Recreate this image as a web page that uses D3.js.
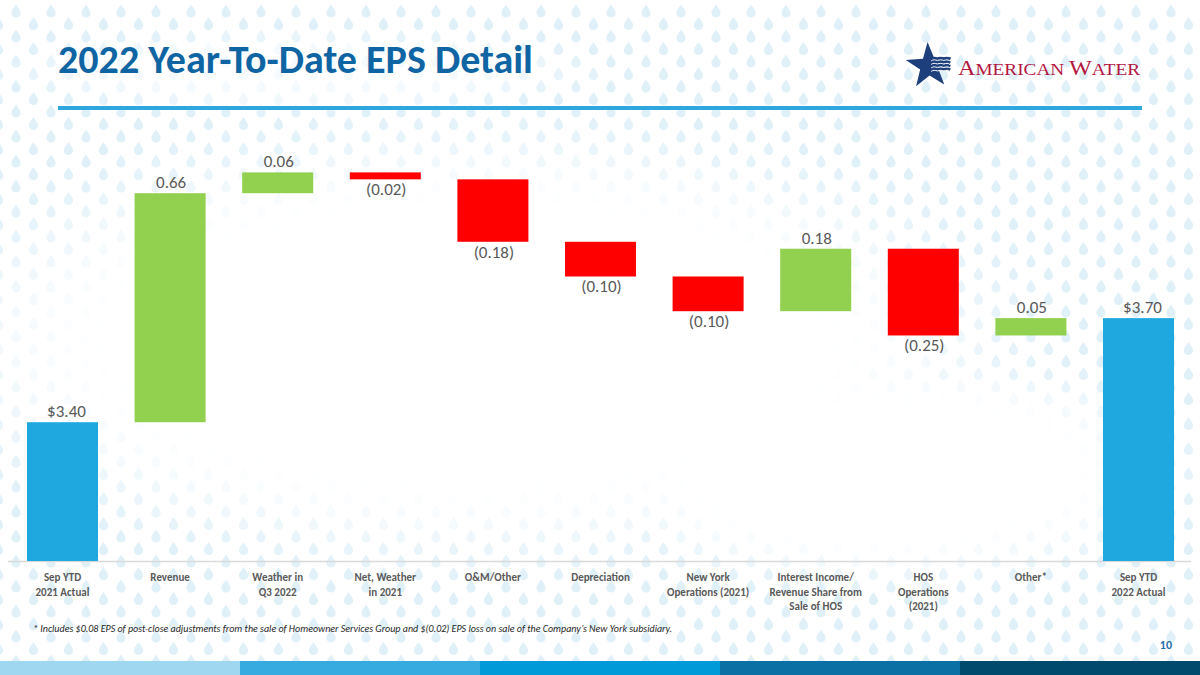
<!DOCTYPE html>
<html>
<head>
<meta charset="utf-8">
<script src="https://cdn.jsdelivr.net/npm/d3@7"></script>
<style>
  html, body { margin: 0; padding: 0; background: #ffffff; }
  svg { display: block; }
</style>
</head>
<body>
<svg id="chart" width="1200" height="675"></svg>
<script>
// ---------------- DATA ----------------
const categories = [
  ["Sep YTD", "2021 Actual"],
  ["Revenue"],
  ["Weather in", "Q3 2022"],
  ["Net, Weather", "in 2021"],
  ["O&M/Other"],
  ["Depreciation"],
  ["New York", "Operations (2021)"],
  ["Interest Income/", "Revenue Share from", "Sale of HOS"],
  ["HOS", "Operations", "(2021)"],
  ["Other*"],
  ["Sep YTD", "2022 Actual"]
];
const values = [3.40, 0.66, 0.06, -0.02, -0.18, -0.10, -0.10, 0.18, -0.25, 0.05, 3.70];
const kinds  = ["total", "delta", "delta", "delta", "delta", "delta", "delta", "delta", "delta", "delta", "total"];
const valueLabels = ["$3.40", "0.66", "0.06", "(0.02)", "(0.18)", "(0.10)", "(0.10)", "0.18", "(0.25)", "0.05", "$3.70"];
const yDomain = [3.0, 4.12];

const titleText = "2022 Year-To-Date EPS Detail";
const footnoteText = "* Includes $0.08 EPS of post-close adjustments from the sale of Homeowner Services Group and $(0.02) EPS loss on sale of the Company\u2019s New York subsidiary.";
const pageNumber = "10";
const stripeColors = ["#9fd6f0", "#35abe0", "#009ad9", "#0b70a4", "#004a6d"];

// ---------------- SETUP ----------------
const svg = d3.select("#chart");
const W = 1200, H = 675;
const FONT = "Carlito, Lato, 'Open Sans', sans-serif";

svg.append("rect").attr("width", W).attr("height", H).attr("fill", "#fff");

// Background droplets (decorative), fading out toward the plot centre
const dropPath = "M0,-6.5 C1.5,-4 4.6,-0.8 4.6,2 A4.6,4.6 0 0 1 -4.6,2 C-4.6,-0.8 -1.5,-4 0,-6.5Z";
const drops = [];
for (let r = 0; r * 12.5 < H + 12; r++) {
  for (let c = -1; c * 35 < W + 35; c++) {
    drops.push([16 + c * 35 + (r % 2 ? 17.5 : 0), 11 + r * 12.5]);
  }
}
function smooth(a, b, t) { const u = Math.max(0, Math.min(1, (t - a) / (b - a))); return u * u * (3 - 2 * u); }
function dropAlpha(px, py) {
  const d1 = Math.hypot((px - 470) / 620, (py - 345) / 245);
  const d2 = Math.hypot((px - 880) / 360, (py - 470) / 130);
  const d3v = Math.hypot((px - 300) / 330, (py - 70) / 45);
  let a = Math.min(smooth(0.55, 1.0, d1), smooth(0.5, 1.0, d2));
  a = Math.min(a, 0.35 + 0.65 * smooth(0.5, 1.0, d3v));
  return a;
}
svg.append("g").selectAll("path").data(drops).join("path")
  .attr("d", dropPath)
  .attr("transform", d => `translate(${d[0]},${d[1]})`)
  .attr("fill", "#d3eaf7")
  .attr("opacity", d => (0.7 * dropAlpha(d[0], d[1])).toFixed(3));

// ---------------- HEADER ----------------
function fitWidth(sel, target) {
  const w = sel.node().getComputedTextLength();
  const fs = parseFloat(sel.attr("font-size"));
  sel.attr("font-size", (fs * target / w).toFixed(2));
}

const title = svg.append("text")
  .attr("x", 58).attr("y", 73)
  .attr("font-family", FONT).attr("font-weight", 700).attr("font-size", 34)
  .attr("fill", "#0f65a3").text(titleText);
fitWidth(title, 475);

svg.append("rect").attr("x", 58).attr("y", 106).attr("width", 1084).attr("height", 4).attr("fill", "#2ea7de");

// Logo: star with waves
const logo = svg.append("g");
const starPts = d3.range(10).map(i => {
  const r = i % 2 === 0 ? 24 : 9.5;
  const a = -Math.PI / 2 + i * Math.PI / 5 - 0.06;
  return [929 + r * Math.cos(a), 66 + r * Math.sin(a)];
});
logo.append("polygon").attr("points", starPts.map(p => p.join(",")).join(" ")).attr("fill", "#1d3f7c");
const waveLine = d3.line().curve(d3.curveBasis);
[58.5, 62, 65.5, 69].forEach(yy => {
  const pts = d3.range(0, 7).map(k => [931 + k * 3.2, yy + (k % 2 ? -0.9 : 0.9)]);
  logo.append("path").attr("d", waveLine(pts)).attr("fill", "none").attr("stroke", "#1d3f7c").attr("stroke-width", 3.0);
});
[58.5, 62, 65.5, 69].forEach(yy => {
  const pts = d3.range(0, 7).map(k => [931 + k * 3.2, yy + 1.6 + (k % 2 ? -0.9 : 0.9)]);
  logo.append("path").attr("d", waveLine(pts)).attr("fill", "none").attr("stroke", "#fff").attr("stroke-width", 1.0);
});
const lt = logo.append("text").attr("x", 958).attr("y", 75)
  .attr("font-family", "'Liberation Serif', 'DejaVu Serif', serif").attr("fill", "#b3173f")
  .attr("textLength", 182).attr("lengthAdjust", "spacingAndGlyphs");
lt.append("tspan").attr("font-size", 22).text("A");
lt.append("tspan").attr("font-size", 17.5).text("MERICAN ");
lt.append("tspan").attr("font-size", 22).text("W");
lt.append("tspan").attr("font-size", 17.5).text("ATER");

// ---------------- CHART ----------------
const x = d3.scaleBand().domain(d3.range(categories.length)).range([8.7, 1192.3]).paddingInner(0.34).paddingOuter(0.17);
const y = d3.scaleLinear().domain(yDomain).range([561, 172.4]);

let running = 0;
const bars = values.map((v, i) => {
  let lo, hi, color;
  if (kinds[i] === "total") {
    lo = yDomain[0]; hi = v; running = v; color = "#1fa8e0";
  } else {
    const start = running, end = running + v;
    lo = Math.min(start, end); hi = Math.max(start, end);
    running = end; color = v >= 0 ? "#92d050" : "#ff0000";
  }
  return { i, v, lo, hi, color, kind: kinds[i], label: valueLabels[i] };
});

// baseline
svg.append("line").attr("x1", 8).attr("x2", 1191).attr("y1", 561.5).attr("y2", 561.5)
  .attr("stroke", "#d9d9d9").attr("stroke-width", 1.5);

svg.append("g").selectAll("rect").data(bars).join("rect")
  .attr("x", d => x(d.i)).attr("width", x.bandwidth())
  .attr("y", d => y(d.hi)).attr("height", d => y(d.lo) - y(d.hi))
  .attr("fill", d => d.color);

svg.append("g").selectAll("text").data(bars).join("text")
  .attr("x", d => x(d.i) + x.bandwidth() / 2 + (d.kind === "total" ? 4 : 1))
  .attr("y", d => (d.kind === "total" || d.v >= 0) ? y(d.hi) - 5 : y(d.lo) + 16)
  .attr("text-anchor", "middle")
  .attr("font-family", FONT).attr("font-size", 17).attr("fill", "#595959")
  .text(d => d.label);

// x axis (ticks hidden; labels drawn as multi-line text)
const xAxis = d3.axisBottom(x).tickSize(0).tickFormat("");
svg.append("g").attr("transform", "translate(0,561)").call(xAxis).call(g => g.select(".domain").remove());

const catG = svg.append("g");
categories.forEach((lines, i) => {
  const cx = x(i) + x.bandwidth() / 2;
  const t = catG.append("text")
    .attr("x", cx).attr("y", 581)
    .attr("text-anchor", "middle")
    .attr("font-family", FONT).attr("font-weight", 700).attr("font-size", 11)
    .attr("fill", "#595959");
  lines.forEach((ln, k) => {
    t.append("tspan").attr("x", cx).attr("y", 581 + k * 14.6).text(ln);
  });
});

// footnote
const fn = svg.append("text").attr("x", 33).attr("y", 632)
  .attr("font-family", FONT).attr("font-style", "italic").attr("font-size", 10)
  .attr("fill", "#262626").text(footnoteText);
fitWidth(fn, 639);

// page number
svg.append("text").attr("x", 1172).attr("y", 649).attr("text-anchor", "end")
  .attr("font-family", FONT).attr("font-weight", 700).attr("font-size", 12)
  .attr("fill", "#1c6eab").text(pageNumber);

// bottom stripes
svg.append("g").selectAll("rect").data(stripeColors).join("rect")
  .attr("x", (d, i) => i * 240).attr("y", 661).attr("width", 240).attr("height", 14)
  .attr("fill", d => d);
</script>
</body>
</html>
